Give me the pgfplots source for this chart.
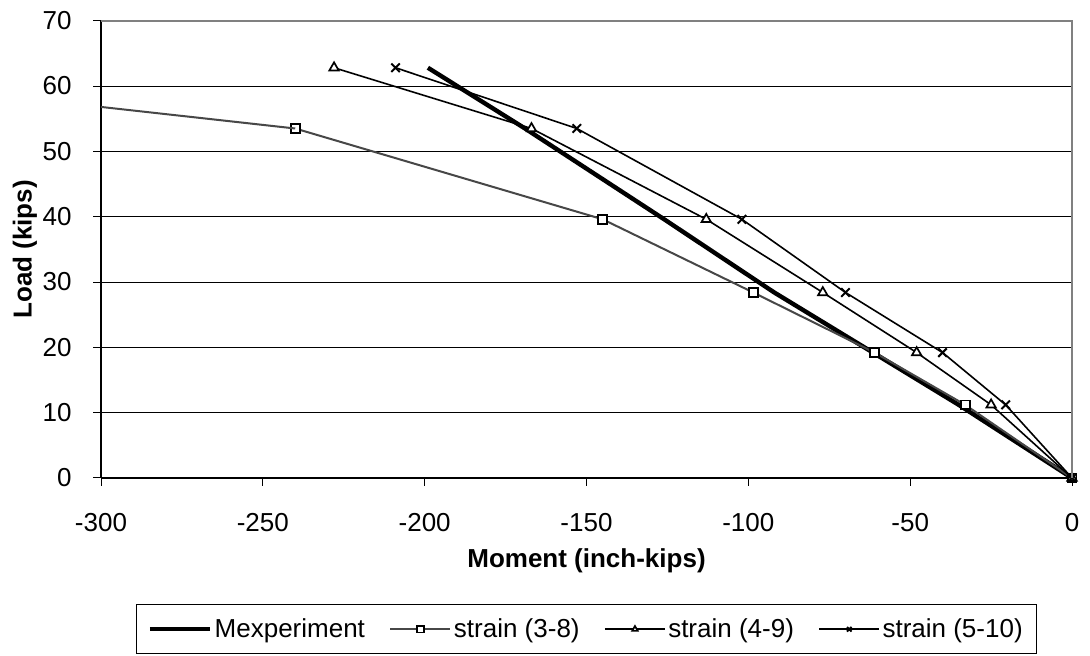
\documentclass[border=0pt]{standalone}
\usepackage{fontspec}
\setmainfont{Liberation Sans}
\usepackage{pgfplots}
\pgfplotsset{compat=1.18}

\newcommand{\chartfont}{\fontsize{13}{15}\selectfont}

\begin{document}
\begin{tikzpicture}
\useasboundingbox (-50.5pt,-89pt) rectangle (494.5pt,239pt);
\begin{axis}[
  at={(0pt,0pt)}, anchor=south west,
  scale only axis,
  width=485.5pt, height=228.65pt,
  xmin=-300, xmax=0, ymin=0, ymax=70,
  xtick={-300,-250,...,0},
  ytick={0,10,...,70},
  axis x line*=bottom, axis y line*=left,
  axis line style={black, line width=0.6pt},
  tick align=outside, major tick length=4pt,
  tick style={black, line width=0.5pt},
  ymajorgrids,
  major grid style={black, line width=0.5pt},
  clip mode=individual,
  /pgf/number format/assume math mode=true,
  tick label style={font=\chartfont},
  xticklabel style={anchor=center, yshift=-18.5pt},
  yticklabel style={anchor=east, inner sep=0pt, xshift=-10.5pt},
  xlabel={Moment (inch-kips)},
  ylabel={Load (kips)},
  xlabel style={font=\chartfont\bfseries, at={(axis description cs:0.5,-0.1810)}, anchor=center},
  ylabel style={font=\chartfont\bfseries, at={(axis description cs:-0.0783,0.5)}, anchor=center},
  legend columns=4,
  legend style={
    at={(axis description cs:0.5,-0.2763)}, anchor=north,
    draw=black, line width=0.5pt, font=\chartfont,
    inner xsep=5.5pt, inner ysep=5.5pt,
    nodes={inner sep=1.25pt},
    /tikz/every even column/.append style={column sep=11pt},
  },
  legend image code/.code={
    \draw[mark repeat=2, mark phase=2, #1, mark size=1.6pt]
      plot coordinates {(0pt,0pt) (15pt,0pt) (30pt,0pt)};
  },
]
% Mexperiment
\addplot[black, line width=2.2pt, no marks] coordinates {
  (0,0) (-35,11.2) (-61.5,19.2) (-92,28.4) (-126,39.6) (-169,53.5) (-199,62.8)
};
% strain (3-8)
\addplot[black!72, line width=1pt, mark=square*,
  mark options={solid, draw=black, fill=white, line width=0.9pt}, mark size=2.2pt] coordinates {
  (0,0) (-33,11.2) (-61,19.2) (-98.5,28.4) (-145,39.6) (-240,53.5)
};
\addplot[black!72, line width=1pt, no marks, forget plot, clip=true] coordinates {
  (-240,53.5) (-409,62.8)
};
% strain (4-9)
\addplot[black, line width=0.8pt, mark=triangle*,
  mark options={solid, draw=black, fill=white, line width=0.85pt}, mark size=2.7pt] coordinates {
  (0,0) (-25,11.2) (-48,19.2) (-77,28.4) (-113,39.6) (-167,53.5) (-228,62.8)
};
% strain (5-10)
\addplot[black, line width=0.8pt, mark=x,
  mark options={solid, line width=1pt}, mark size=3pt] coordinates {
  (0,0) (-20.5,11.2) (-40,19.2) (-70,28.4) (-102,39.6) (-153,53.5) (-209,62.8)
};
\legend{Mexperiment, strain (3-8), strain (4-9), strain (5-10)}
\draw[gray, line width=0.9pt] (rel axis cs:0,1) -- (rel axis cs:1,1) -- (rel axis cs:1,0);
\end{axis}
\end{tikzpicture}
\end{document}
